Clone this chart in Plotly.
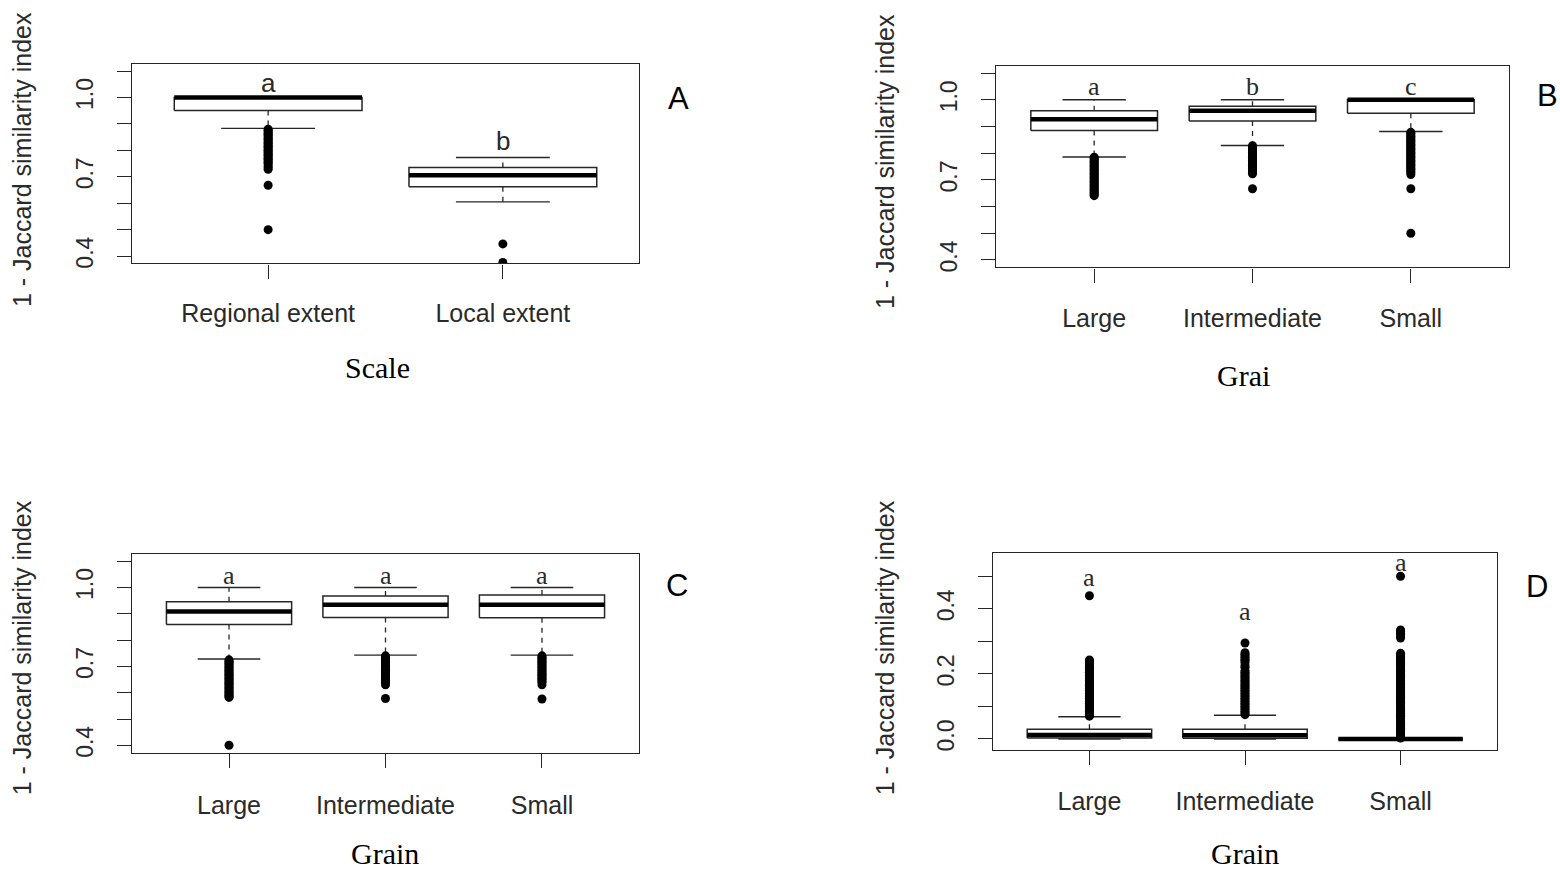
import plotly.graph_objects as go

W, H = 1560, 874

# ---------------- Data ----------------
# Panel A: Scale
A_cats = ["Regional extent", "Local extent"]
A_q1 = [0.951, 0.662]
A_med = [1.0, 0.706]
A_q3 = [1.0, 0.735]
A_lo = [0.883, 0.605]
A_hi = [1.0, 0.773]
A_out = [
    [0.88, 0.875, 0.87, 0.865, 0.86, 0.855, 0.85, 0.845, 0.84, 0.835, 0.83, 0.825,
     0.82, 0.815, 0.81, 0.805, 0.80, 0.795, 0.79, 0.785, 0.78, 0.775, 0.77, 0.765,
     0.76, 0.755, 0.75, 0.742, 0.735, 0.728, 0.668, 0.50],
    [0.446, 0.376],
]
A_letters = ["a", "b"]
A_letter_y = [1.056, 0.834]

# Panel B: Grain
B_cats = ["Large", "Intermediate", "Small"]
B_q1 = [0.885, 0.921, 0.950]
B_med = [0.927, 0.959, 1.0]
B_q3 = [0.959, 0.976, 1.0]
B_lo = [0.786, 0.829, 0.881]
B_hi = [1.0, 1.0, 1.0]
B_out = [
    [0.785, 0.78, 0.775, 0.77, 0.765, 0.76, 0.755, 0.75, 0.745, 0.74, 0.735, 0.73,
     0.725, 0.72, 0.715, 0.71, 0.705, 0.70, 0.695, 0.69, 0.685, 0.68, 0.675, 0.67,
     0.665, 0.66, 0.655, 0.65, 0.645, 0.641],
    [0.828, 0.823, 0.818, 0.813, 0.808, 0.803, 0.798, 0.793, 0.788, 0.783, 0.778,
     0.773, 0.768, 0.763, 0.758, 0.753, 0.748, 0.743, 0.738, 0.733, 0.728, 0.723,
     0.667],
    [0.878, 0.873, 0.868, 0.863, 0.858, 0.853, 0.848, 0.843, 0.838, 0.833, 0.828,
     0.823, 0.818, 0.813, 0.808, 0.803, 0.798, 0.793, 0.788, 0.783, 0.778, 0.773,
     0.768, 0.763, 0.758, 0.753, 0.748, 0.743, 0.738, 0.733, 0.728, 0.72, 0.667,
     0.50],
]
B_letters = ["a", "b", "c"]
B_letter_y = [1.048, 1.048, 1.048]

# Panel C: Grain
C_cats = ["Large", "Intermediate", "Small"]
C_q1 = [0.859, 0.886, 0.885]
C_med = [0.909, 0.934, 0.934]
C_q3 = [0.946, 0.968, 0.971]
C_lo = [0.728, 0.743, 0.743]
C_hi = [1.0, 1.0, 1.0]
C_out = [
    [0.725, 0.72, 0.715, 0.71, 0.705, 0.70, 0.695, 0.69, 0.685, 0.68, 0.675, 0.67,
     0.665, 0.66, 0.655, 0.65, 0.645, 0.64, 0.635, 0.63, 0.625, 0.62, 0.615, 0.61,
     0.605, 0.60, 0.595, 0.59, 0.585, 0.582, 0.40],
    [0.74, 0.735, 0.73, 0.725, 0.72, 0.715, 0.71, 0.705, 0.70, 0.695, 0.69, 0.685,
     0.68, 0.675, 0.67, 0.665, 0.66, 0.655, 0.65, 0.645, 0.64, 0.63, 0.578],
    [0.74, 0.735, 0.73, 0.725, 0.72, 0.715, 0.71, 0.705, 0.70, 0.695, 0.69, 0.685,
     0.68, 0.675, 0.67, 0.665, 0.66, 0.655, 0.65, 0.645, 0.64, 0.63, 0.576],
]
C_letters = ["a", "a", "a"]
C_letter_y = [1.046, 1.046, 1.046]

# Panel D: Grain
D_cats = ["Large", "Intermediate", "Small"]
D_q1 = [0.003, 0.002, 0.0]
D_med = [0.012, 0.011, 0.0]
D_q3 = [0.030, 0.030, 0.0]
D_lo = [0.0, 0.0, 0.0]
D_hi = [0.068, 0.073, 0.0]
D_out = [
    [0.07, 0.075, 0.08, 0.085, 0.09, 0.095, 0.10, 0.105, 0.11, 0.115, 0.12, 0.125,
     0.13, 0.135, 0.14, 0.145, 0.15, 0.155, 0.16, 0.165, 0.17, 0.175, 0.18, 0.185,
     0.19, 0.195, 0.20, 0.205, 0.21, 0.215, 0.22, 0.225, 0.23, 0.235, 0.24, 0.243,
     0.44],
    [0.075, 0.08, 0.085, 0.09, 0.095, 0.10, 0.105, 0.11, 0.115, 0.12, 0.125, 0.13,
     0.135, 0.14, 0.145, 0.15, 0.155, 0.16, 0.165, 0.17, 0.175, 0.18, 0.185, 0.19,
     0.195, 0.20, 0.205, 0.21, 0.22, 0.225, 0.235, 0.24, 0.245, 0.25, 0.255, 0.26,
     0.265, 0.295],
    [0.003, 0.008, 0.013, 0.018, 0.023, 0.028, 0.033, 0.038, 0.043, 0.048, 0.053,
     0.058, 0.063, 0.068, 0.073, 0.078, 0.083, 0.088, 0.093, 0.098, 0.103, 0.108,
     0.113, 0.118, 0.123, 0.128, 0.133, 0.138, 0.143, 0.148, 0.153, 0.158, 0.163,
     0.168, 0.173, 0.178, 0.183, 0.188, 0.193, 0.198, 0.203, 0.208, 0.213, 0.218,
     0.223, 0.228, 0.233, 0.238, 0.243, 0.248, 0.253, 0.258, 0.263, 0.31, 0.315,
     0.32, 0.325, 0.33, 0.335, 0.50],
]
D_letters = ["a", "a", "a"]
D_letter_y = [0.495, 0.393, 0.541]

Y1_TICKS = [0.4, 0.5, 0.6, 0.7, 0.8, 0.9, 1.0, 1.1]
Y1_TEXT = ["0.4", "", "", "0.7", "", "", "1.0", ""]
Y2_TICKS = [0.0, 0.1, 0.2, 0.3, 0.4, 0.5]
Y2_TEXT = ["0.0", "", "0.2", "", "0.4", ""]

YTITLE = "1 - Jaccard similarity index"

# ---------------- Styling / layout ----------------
LINE = "#262626"
TXT = "#2a2a2a"
SANS = "Liberation Sans, Arial, sans-serif"
SERIF = "Liberation Serif, Times New Roman, serif"
BW = 0.4      # half box width (R default boxwex 0.8)
SW = 0.2      # half staple width

panels = [
    dict(cats=A_cats, q1=A_q1, med=A_med, q3=A_q3, lo=A_lo, hi=A_hi, out=A_out,
         letters=A_letters, ly=A_letter_y, lfont=SANS,
         box=(132, 64, 639, 265), xr=[0.42, 2.58], yr=[0.372, 1.128],
         yt=Y1_TICKS, ytt=Y1_TEXT, xstand=13,
         xlab="Scale", xlab_pos=(377, 370), tag="A", tag_pos=(678, 99),
         ytitle_pos=(22, 161)),
    dict(cats=B_cats, q1=B_q1, med=B_med, q3=B_q3, lo=B_lo, hi=B_hi, out=B_out,
         letters=B_letters, ly=B_letter_y, lfont=SERIF,
         box=(996, 66, 1509, 269), xr=[0.38, 3.62], yr=[0.372, 1.128],
         yt=Y1_TICKS, ytt=Y1_TEXT, xstand=14,
         xlab="Grai", xlab_pos=(1243, 378), tag="B", tag_pos=(1547, 96),
         ytitle_pos=(885, 163)),
    dict(cats=C_cats, q1=C_q1, med=C_med, q3=C_q3, lo=C_lo, hi=C_hi, out=C_out,
         letters=C_letters, ly=C_letter_y, lfont=SERIF,
         box=(132, 557, 639, 757), xr=[0.38, 3.62], yr=[0.372, 1.128],
         yt=Y1_TICKS, ytt=Y1_TEXT, xstand=16,
         xlab="Grain", xlab_pos=(385, 858), tag="C", tag_pos=(677, 589),
         ytitle_pos=(22, 652)),
    dict(cats=D_cats, q1=D_q1, med=D_med, q3=D_q3, lo=D_lo, hi=D_hi, out=D_out,
         letters=D_letters, ly=D_letter_y, lfont=SERIF,
         box=(993, 556, 1497, 754), xr=[0.38, 3.62], yr=[-0.033, 0.572],
         yt=Y2_TICKS, ytt=Y2_TEXT, xstand=15,
         xlab="Grain", xlab_pos=(1245, 858), tag="D", tag_pos=(1537, 590),
         ytitle_pos=(885, 652)),
]

fig = go.Figure()
annotations = []
layout_axes = {}

for k, p in enumerate(panels, start=1):
    xa = "x" if k == 1 else f"x{k}"
    ya = "y" if k == 1 else f"y{k}"
    n = len(p["cats"])
    pos = list(range(1, n + 1))

    bx, by, wx, wy, sx, sy, mx, my = [], [], [], [], [], [], [], []
    ox, oy = [], []
    for i, c in enumerate(pos):
        q1, q3, md, lo, hi = p["q1"][i], p["q3"][i], p["med"][i], p["lo"][i], p["hi"][i]
        bx += [c - BW, c + BW, c + BW, c - BW, c - BW, None]
        by += [q1, q1, q3, q3, q1, None]
        wx += [c, c, None, c, c, None]
        wy += [q3, hi, None, q1, lo, None]
        sx += [c - SW, c + SW, None, c - SW, c + SW, None]
        sy += [hi, hi, None, lo, lo, None]
        mx += [c - BW, c + BW, None]
        my += [md, md, None]
        for v in p["out"][i]:
            ox.append(c)
            oy.append(v)

    common = dict(xaxis=xa, yaxis=ya, hoverinfo="skip", showlegend=False)
    fig.add_trace(go.Scatter(x=wx, y=wy, mode="lines",
                             line=dict(color=LINE, width=1.3, dash="5px,5px"), **common))
    fig.add_trace(go.Scatter(x=sx, y=sy, mode="lines",
                             line=dict(color=LINE, width=1.4), **common))
    fig.add_trace(go.Scatter(x=bx, y=by, mode="lines",
                             line=dict(color=LINE, width=1.5), **common))
    fig.add_trace(go.Scatter(x=mx, y=my, mode="lines",
                             line=dict(color="black", width=4.5), **common))
    fig.add_trace(go.Scatter(x=ox, y=oy, mode="markers",
                             marker=dict(color="black", size=9, line=dict(width=0)),
                             **common))

    x0, y0, x1, y1 = p["box"]
    axis_font = dict(family=SANS, size=25, color=TXT)
    layout_axes["xaxis" if k == 1 else f"xaxis{k}"] = dict(
        domain=[x0 / W, x1 / W], range=p["xr"], anchor=ya,
        tickmode="array", tickvals=pos, ticktext=p["cats"],
        ticks="outside", ticklen=14, tickwidth=1.3, tickcolor=LINE,
        showline=True, mirror=True, linecolor=LINE, linewidth=1.4,
        showgrid=False, zeroline=False, tickfont=axis_font,
        ticklabelstandoff=p["xstand"], fixedrange=True,
    )
    layout_axes["yaxis" if k == 1 else f"yaxis{k}"] = dict(
        domain=[1 - y1 / H, 1 - y0 / H], range=p["yr"], anchor=xa,
        tickmode="array", tickvals=p["yt"], ticktext=p["ytt"], tickangle=-90,
        ticks="outside", ticklen=14, tickwidth=1.3, tickcolor=LINE,
        showline=True, mirror=True, linecolor=LINE, linewidth=1.4,
        showgrid=False, zeroline=False,
        tickfont=dict(family=SANS, size=23, color=TXT),
        ticklabelstandoff=15, fixedrange=True,
    )

    # significance letters
    for i, c in enumerate(pos):
        annotations.append(dict(x=c, y=p["ly"][i], xref=xa, yref=ya, text=p["letters"][i],
                                showarrow=False, xanchor="center", yanchor="middle",
                                font=dict(family=p["lfont"], size=26, color=TXT)))
    # y-axis title
    tx, ty = p["ytitle_pos"]
    annotations.append(dict(x=tx / W, y=1 - ty / H, xref="paper", yref="paper",
                            text=YTITLE, textangle=-90, showarrow=False,
                            xanchor="center", yanchor="middle",
                            font=dict(family=SANS, size=25, color=TXT)))
    # x label under panel
    lx, lyy = p["xlab_pos"]
    annotations.append(dict(x=lx / W, y=1 - lyy / H, xref="paper", yref="paper",
                            text=p["xlab"], showarrow=False,
                            xanchor="center", yanchor="middle",
                            font=dict(family=SERIF, size=30, color="black")))
    # panel tag
    gx, gy = p["tag_pos"]
    annotations.append(dict(x=gx / W, y=1 - gy / H, xref="paper", yref="paper",
                            text=p["tag"], showarrow=False,
                            xanchor="center", yanchor="middle",
                            font=dict(family=SANS, size=31, color="black")))

fig.update_layout(
    width=W, height=H,
    margin=dict(l=0, r=0, t=0, b=0),
    paper_bgcolor="white", plot_bgcolor="white",
    showlegend=False,
    annotations=annotations,
    **layout_axes,
)

fig.write_html("out.html", config={"displayModeBar": False},
               post_script="document.body.style.margin='0';document.body.style.overflow='hidden';")
